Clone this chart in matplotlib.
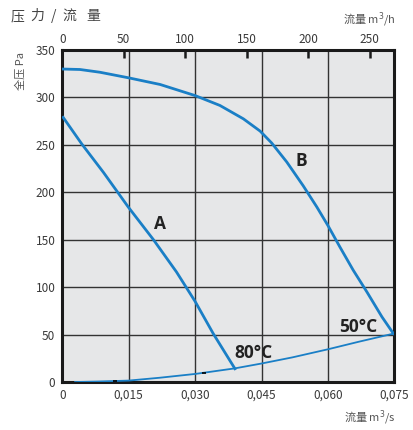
import numpy as np
import matplotlib.pyplot as plt

plt.rcParams['font.family'] = ['Noto Sans CJK SC', 'DejaVu Sans']

# fan curve A (m3/s, Pa)
a_flow = [0.0002, 0.0044, 0.0093, 0.0149, 0.0206, 0.0258, 0.030, 0.0341, 0.039]
a_pres = [279, 251, 221, 184.5, 150, 116, 85, 51, 14]
# fan curve B
b_flow = [0.0, 0.004, 0.0085, 0.015, 0.0221, 0.030, 0.0356, 0.0409, 0.0447,
          0.0473, 0.0507, 0.0544, 0.0575, 0.060, 0.0627, 0.0657, 0.0688, 0.0722, 0.0748]
b_pres = [330, 329.5, 326.6, 320.7, 313.7, 302, 291.6, 277.5, 264.5,
          252, 232, 207, 184.5, 165, 142.4, 118, 95, 68.7, 51]
# system curve
s_flow = [0.0029, 0.008, 0.015, 0.022, 0.030, 0.039, 0.045, 0.052, 0.060, 0.067, 0.0748]
s_pres = [0, 0.5, 1.5, 4.5, 8.5, 14.4, 19.5, 26, 34.5, 42.5, 51]
# small black specks on the system curve
dot_flow = [0.0118, 0.032]
dot_pres = [0.6, 9.3]

x_ticks = [0, 0.015, 0.030, 0.045, 0.060, 0.075]
x_labels = ['0', '0,015', '0,030', '0,045', '0,060', '0,075']
y_ticks = [0, 50, 100, 150, 200, 250, 300, 350]
top_ticks = [0, 50, 100, 150, 200, 250]

blue = '#1a7fc6'
grey = '#3a3a3a'

fig = plt.figure(figsize=(4.13, 4.30), dpi=100)
ax = fig.add_axes([0.1508, 0.1116, 0.804, 0.772])
ax.set_facecolor('#e6e7e8')

ax.plot(s_flow, s_pres, color=blue, lw=1.3, zorder=3)
ax.plot(a_flow, a_pres, color=blue, lw=2.0, zorder=3, solid_joinstyle='round')
ax.plot(b_flow, b_pres, color=blue, lw=2.0, zorder=3, solid_joinstyle='round')
ax.scatter(dot_flow, dot_pres, marker='_', s=6, color='black', lw=1.2, zorder=4)

ax.set_xlim(0, 0.075)
ax.set_ylim(0, 350)
ax.set_xticks(x_ticks)
ax.set_xticklabels(x_labels)
ax.set_yticks(y_ticks)
ax.grid(True, color='#333333', lw=1.0, zorder=1)
ax.set_axisbelow(True)
ax.tick_params(length=0, labelsize=8.5, labelcolor=grey, pad=5)
for s in ax.spines.values():
    s.set_linewidth(2.2)
    s.set_color('#1a1a1a')

# top axis in m3/h
top = ax.secondary_xaxis('top', functions=(lambda v: v * 3600, lambda v: v / 3600))
top.set_xticks(top_ticks)
top.tick_params(direction='in', length=6, width=1.8, color='#1a1a1a',
                labelsize=8.5, labelcolor=grey, pad=3)
top.spines['top'].set_visible(False)

lab = dict(fontsize=12.5, fontweight='bold', color='#222222', ha='center', va='center',
           family=['Open Sans', 'DejaVu Sans'])
ax.text(0.0221, 167, 'A', **lab)
ax.text(0.0539, 233, 'B', **lab)
ax.text(0.0431, 31, '80°C', **lab)
ax.text(0.0669, 58, '50°C', **lab)

title_chars = ['压', '力', '/', '流', '量']
title_x = [17.5, 37, 53.5, 69, 93.5]
for ch, px in zip(title_chars, title_x):
    fig.text(px / 413, 1 - 16 / 430, ch, fontsize=10, color='#444444', ha='center', va='center')

fig.text(20 / 413, 1 - 52 / 430, '全压 Pa', fontsize=8, color='#555555', rotation=90,
         ha='center', va='top')
fig.text(396 / 413, 1 - 20 / 430, '流量 m$^3$/h', fontsize=8, color='#555555', ha='right', va='center')
fig.text(396 / 413, 1 - 418 / 430, '流量 m$^3$/s', fontsize=8, color='#555555', ha='right', va='center')

fig.savefig('out.png', dpi=100)
